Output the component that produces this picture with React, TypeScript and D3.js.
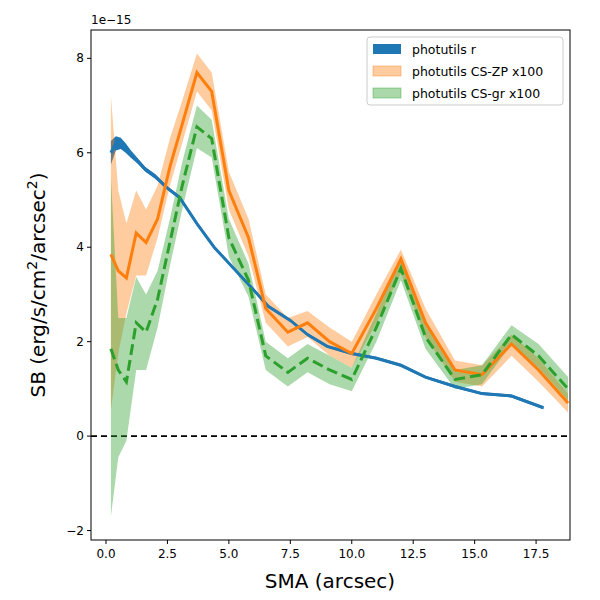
import React from "react";
import * as d3 from "d3";

const rX = [0.2,0.4,0.6,0.8,1.0,1.3,1.6,2.0,2.5,3.0,3.7,4.4,5.2,6.0,6.6,7.5,8.2,9.0,10.0,11.0,12.0,13.0,14.2,15.3,16.5,17.8];
const rY = [6.0,6.2,6.2,6.1,5.98,5.82,5.65,5.5,5.25,5.05,4.5,4.0,3.55,3.1,2.75,2.45,2.15,1.9,1.75,1.65,1.5,1.25,1.05,0.9,0.85,0.6];
const rErr = [0.25,0.15,0.12,0.1,0.08,0.06,0.05,0.05,0.04,0.04,0.04,0.03,0.03,0.03,0.03,0.03,0.03,0.03,0.03,0.03,0.03,0.03,0.03,0.03,0.03,0.03];

const cX = [0.2,0.5,0.83,1.23,1.63,2.1,2.6,3.1,3.7,4.3,5.0,5.8,6.5,7.4,8.2,9.1,10.0,11.0,12.0,13.0,14.2,15.3,16.5,17.6,18.8];
const zpY = [3.85,3.5,3.35,4.3,4.1,4.6,5.7,6.6,7.7,7.3,5.2,4.2,2.7,2.2,2.4,2.0,1.75,2.7,3.75,2.4,1.4,1.3,1.95,1.4,0.7];
const zpLo = [0.55,1.75,2.6,3.4,3.4,4.2,5.3,6.2,7.3,6.9,4.8,3.8,2.4,1.9,2.1,1.7,1.45,2.4,3.45,2.1,1.15,1.05,1.7,1.15,0.5];
const zpHi = [7.2,5.2,4.5,5.2,4.8,5.3,6.3,7.1,8.1,7.7,5.6,4.6,3.0,2.5,2.65,2.3,2.0,3.0,3.95,2.7,1.6,1.5,2.15,1.65,0.9];
const grY = [1.85,1.4,1.15,2.4,2.2,2.9,4.1,5.3,6.55,6.3,4.2,3.3,1.7,1.35,1.65,1.4,1.2,2.3,3.55,2.1,1.2,1.3,2.15,1.7,1.0];
const grLo = [-1.7,-0.45,-0.1,1.4,1.4,2.3,3.6,4.8,6.1,5.9,3.8,2.95,1.4,1.05,1.35,1.1,0.95,2.0,3.3,1.85,1.0,1.1,1.95,1.45,0.75];
const grHi = [5.5,2.5,2.5,3.37,3.0,3.5,4.6,5.8,7.0,6.7,4.6,3.65,2.0,1.65,1.95,1.7,1.45,2.6,3.8,2.35,1.4,1.5,2.35,1.95,1.25];

const xTicks = [0,2.5,5,7.5,10,12.5,15,17.5];
const yTicks = [-2,0,2,4,6,8];

export default function App() {
  const L = 91, R = 570, T = 30, B = 540;
  const x = d3.scaleLinear().domain([-0.61, 18.88]).range([L, R]);
  const y = d3.scaleLinear().domain([-2.2, 8.6]).range([B, T]);
  const line = (xs: number[], ys: number[]) => d3.line<number>().x((_, i) => x(xs[i])).y(d => y(d))(ys)!;
  const area = (xs: number[], lo: number[], hi: number[]) =>
    d3.area<number>().x((_, i) => x(xs[i])).y0((_, i) => y(lo[i])).y1(d => y(d))(hi)!;
  const font = "DejaVu Sans";
  return (
    <svg width={600} height={600} style={{ position: "absolute", left: 0, top: 0 }} fontFamily={font}>
      <rect width={600} height={600} fill="white" />
      <defs><clipPath id="c"><rect x={L} y={T} width={R - L} height={B - T} /></clipPath></defs>
      <g clipPath="url(#c)">
        <line x1={L} x2={R} y1={y(0)} y2={y(0)} stroke="black" strokeWidth={1.8} strokeDasharray="6,4" />
        <path d={area(rX, rY.map((v, i) => v - rErr[i]), rY.map((v, i) => v + rErr[i]))} fill="#1f77b4" />
        <path d={area(cX, zpLo, zpHi)} fill="#ff7f0e" fillOpacity={0.4} />
        <path d={area(cX, grLo, grHi)} fill="#2ca02c" fillOpacity={0.4} />
        <path d={line(rX, rY)} fill="none" stroke="#1f77b4" strokeWidth={3} />
        <path d={line(cX, zpY)} fill="none" stroke="#ff7f0e" strokeWidth={3} />
        <path d={line(cX, grY)} fill="none" stroke="#2ca02c" strokeWidth={3} strokeDasharray="11,5" />
      </g>
      <rect x={L} y={T} width={R - L} height={B - T} fill="none" stroke="black" strokeWidth={1} />
      {xTicks.map(t => (
        <g key={t}>
          <line x1={x(t)} x2={x(t)} y1={B} y2={B + 4} stroke="black" />
          <text x={x(t)} y={B + 18} textAnchor="middle" fontSize={12}>{t.toFixed(1)}</text>
        </g>
      ))}
      {yTicks.map(t => (
        <g key={t}>
          <line x1={L - 4} x2={L} y1={y(t)} y2={y(t)} stroke="black" />
          <text x={L - 7} y={y(t) + 4} textAnchor="end" fontSize={12}>{t < 0 ? "\u2212" + Math.abs(t) : t}</text>
        </g>
      ))}
      <text x={L} y={T - 6} fontSize={12}>1e−15</text>
      <text x={330} y={588} textAnchor="middle" fontSize={20}>SMA (arcsec)</text>
      <text transform={`translate(45,${(T + B) / 2}) rotate(-90)`} textAnchor="middle" fontSize={20}>
        SB (erg/s/cm<tspan dy={-8} fontSize={14}>2</tspan><tspan dy={8}>/arcsec</tspan><tspan dy={-8} fontSize={14}>2</tspan><tspan dy={8}>)</tspan>
      </text>
      <g transform="translate(367,37)">
        <rect width={196} height={68} rx={3} fill="white" fillOpacity={0.8} stroke="#ccc" />
        <rect x={6} y={7} width={28} height={10} fill="#1f77b4" />
        <text x={45} y={17} fontSize={12.5}>photutils r</text>
        <rect x={6} y={29} width={28} height={10} fill="#ff7f0e" fillOpacity={0.4} stroke="#ff7f0e" strokeOpacity={0.4} />
        <text x={45} y={39} fontSize={12.5}>photutils CS-ZP x100</text>
        <rect x={6} y={51} width={28} height={10} fill="#2ca02c" fillOpacity={0.4} stroke="#2ca02c" strokeOpacity={0.4} />
        <text x={45} y={61} fontSize={12.5}>photutils CS-gr x100</text>
      </g>
    </svg>
  );
}
